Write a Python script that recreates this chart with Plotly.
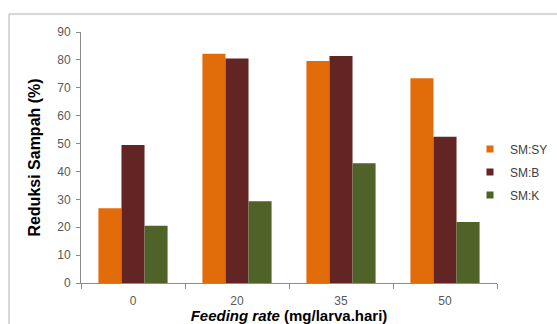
import plotly.graph_objects as go

# Feeding rate categories (mg/larva.hari) and waste reduction (%) per substrate mix
categories = ["0", "20", "35", "50"]
sm_sy = [26.8, 82.2, 79.6, 73.4]
sm_b = [49.5, 80.5, 81.4, 52.4]
sm_k = [20.5, 29.3, 42.9, 21.9]

series = [
    ("SM:SY", sm_sy, "#E36C0A"),
    ("SM:B", sm_b, "#632523"),
    ("SM:K", sm_k, "#4F6228"),
]

W, H = 557, 324
L, R, T, B = 81, 60, 32, 41
pw, ph = W - L - R, H - T - B

fig = go.Figure()
for name, vals, color in series:
    fig.add_trace(go.Bar(
        x=categories, y=vals, name=name, marker_color=color,
        marker_line_width=0, legendgroup=name, showlegend=False,
    ))
# small square legend keys
for name, vals, color in series:
    fig.add_trace(go.Scatter(
        x=[None], y=[None], mode="markers", name=name, legendgroup=name,
        marker=dict(symbol="square", size=7, color=color),
    ))

axis_color = "#8C8C8C"
tick_font = dict(family="Liberation Sans, Arial, sans-serif", size=12, color="#595959")

fig.update_layout(
    width=W, height=H,
    margin=dict(l=L, r=R, t=T, b=B, autoexpand=False),
    paper_bgcolor="white", plot_bgcolor="white",
    barmode="group", bargap=0.335, bargroupgap=0,
    font=dict(family="Liberation Sans, Arial, sans-serif", color="black"),
    legend=dict(
        x=(470 - L) / pw, xanchor="left", y=(T + ph - 172) / ph, yanchor="middle",
        font=dict(size=12, color="#404040"), itemwidth=30,
        traceorder="grouped", tracegroupgap=4,
        bgcolor="rgba(0,0,0,0)",
    ),
    xaxis=dict(
        type="category", showline=True, linecolor=axis_color, linewidth=1,
        ticks="outside", tickson="boundaries", ticklen=5, tickcolor=axis_color,
        tickfont=tick_font, showgrid=False, ticklabelstandoff=7, automargin=False,
        title=dict(text="<b><i>Feeding rate</i> (mg/larva.hari)</b>",
                   font=dict(size=15, color="black"), standoff=0),
    ),
    yaxis=dict(
        range=[0, 90], dtick=10, showline=True, linecolor=axis_color, linewidth=1,
        ticks="outside", ticklen=4, tickcolor=axis_color, tickfont=tick_font,
        showgrid=False, zeroline=False, ticklabelstandoff=3, automargin=False,
        title=dict(text="<b>Reduksi Sampah (%)</b>",
                   font=dict(size=16, color="black"), standoff=12),
    ),
    shapes=[dict(
        type="rect", xref="paper", yref="paper",
        x0=(9 - L) / pw, x1=(W + 5 - L) / pw,
        y0=(T + ph - (H + 5)) / ph, y1=(T + ph - 14) / ph,
        line=dict(color="#B0B0B0", width=1), layer="below",
    )],
)

fig.write_html("out.html")
